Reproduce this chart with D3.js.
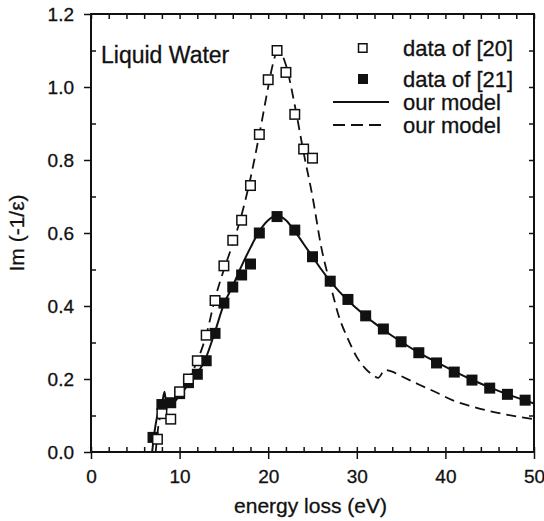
<!DOCTYPE html>
<html>
<head>
<meta charset="utf-8">
<script src="https://cdn.jsdelivr.net/npm/d3@7"></script>
<style>
  body { margin: 0; background: #fff; }
  text { font-family: "Liberation Sans", Arial, sans-serif; fill: #111; }
</style>
</head>
<body>
<div id="chart"></div>
<script>
// data of [20] (open squares)
var openX = [7.5, 8, 9, 10, 11, 12, 13, 14, 15, 16, 17, 18, 19, 20, 21, 22, 23, 24, 25];
var openY = [0.035, 0.105, 0.09, 0.165, 0.2, 0.25, 0.32, 0.415, 0.51, 0.58, 0.635, 0.73, 0.87, 1.02, 1.1, 1.04, 0.925, 0.83, 0.805];

// data of [21] (filled squares)
var filledX = [7, 8, 9, 10, 11, 12, 13, 14, 15, 16, 17, 18, 19, 21, 23, 25, 27, 29, 31, 33, 35, 37, 39, 41, 43, 45, 47, 49];
var filledY = [0.04, 0.13, 0.135, 0.16, 0.19, 0.213, 0.25, 0.325, 0.408, 0.452, 0.485, 0.515, 0.6, 0.645, 0.608, 0.535, 0.468, 0.418, 0.373, 0.337, 0.302, 0.272, 0.244, 0.219, 0.197, 0.175, 0.158, 0.142];

// our model (solid)
var solidX = [6.9, 7.2, 7.6, 8.0, 8.3, 8.5, 9, 10, 11, 12, 13, 14, 15, 16, 17, 18, 19, 20, 21, 22, 23, 24, 25, 26, 27, 28, 29, 30, 31, 32, 33, 35, 37, 39, 41, 43, 45, 47, 50];
var solidY = [0.0, 0.06, 0.11, 0.13, 0.165, 0.13, 0.13, 0.155, 0.185, 0.215, 0.26, 0.33, 0.405, 0.455, 0.51, 0.56, 0.605, 0.635, 0.648, 0.635, 0.605, 0.57, 0.535, 0.5, 0.468, 0.44, 0.415, 0.393, 0.372, 0.353, 0.335, 0.302, 0.272, 0.246, 0.221, 0.198, 0.177, 0.158, 0.133];

// our model (dashed)
var dashX = [7.3, 7.6, 8.0, 8.5, 9, 10, 11, 12, 13, 14, 15, 16, 17, 18, 19, 20, 20.5, 21, 21.5, 22, 23, 24, 25, 26, 27, 28, 29, 30, 31, 32, 32.4, 33.2, 34, 35, 37, 39, 41, 43, 45, 47, 50];
var dashY = [0.0, 0.07, 0.11, 0.13, 0.14, 0.165, 0.2, 0.25, 0.32, 0.42, 0.5, 0.57, 0.65, 0.75, 0.87, 1.0, 1.06, 1.095, 1.09, 1.06, 0.95, 0.82, 0.7, 0.56, 0.46, 0.37, 0.31, 0.26, 0.228, 0.208, 0.203, 0.225, 0.22, 0.208, 0.185, 0.163, 0.14, 0.125, 0.112, 0.102, 0.09];

var xMajor = [0, 10, 20, 30, 40, 50];
var yMajor = [0, 0.2, 0.4, 0.6, 0.8, 1.0, 1.2];

var W = 544, H = 521;
var margin = { top: 14, right: 10, bottom: 69, left: 91 };
var width = W - margin.left - margin.right,
  height = H - margin.top - margin.bottom;

var svg = d3.select("#chart").append("svg")
  .attr("width", W).attr("height", H)
  .append("g")
  .attr("transform", "translate(" + margin.left + "," + margin.top + ")");

var x = d3.scaleLinear().domain([0, 50]).range([0, width]);
var y = d3.scaleLinear().domain([0, 1.2]).range([height, 0]);

function zip(xs, ys) {
  return xs.map(function(v, i) { return { x: v, y: ys[i] }; });
}

function cleanAxis(g) {
  g.select(".domain").remove();
  g.selectAll(".tick line").attr("stroke", "#111").attr("stroke-width", 1.5);
  g.selectAll(".tick text")
    .style("font-family", "'Liberation Sans', Arial, sans-serif")
    .style("font-size", "19px")
    .attr("fill", "#111")
    .attr("stroke", "#111").attr("stroke-width", 0.3);
}

// axes
svg.append("g")
  .attr("transform", "translate(0," + height + ")")
  .call(d3.axisBottom(x).tickValues(xMajor).tickSize(7).tickPadding(11).tickFormat(d3.format("d")))
  .call(cleanAxis);
svg.append("g")
  .attr("transform", "translate(0," + height + ")")
  .call(d3.axisBottom(x).tickValues(d3.range(0, 51, 2)).tickSize(-5).tickFormat(""))
  .call(cleanAxis);
svg.append("g")
  .call(d3.axisTop(x).tickValues(d3.range(0, 51, 2)).tickSize(-5).tickFormat(""))
  .call(cleanAxis);
svg.append("g")
  .call(d3.axisLeft(y).tickValues(yMajor).tickSize(7).tickPadding(10).tickFormat(d3.format(".1f")))
  .call(cleanAxis);
svg.append("g")
  .call(d3.axisLeft(y).tickValues([0.1, 0.3, 0.5, 0.7, 0.9, 1.1]).tickSize(-5).tickFormat(""))
  .call(cleanAxis);
svg.append("g")
  .attr("transform", "translate(" + width + ",0)")
  .call(d3.axisRight(y).tickValues(d3.range(1, 12).map(function(d) { return d / 10; })).tickSize(-5).tickFormat(""))
  .call(cleanAxis);

svg.append("rect")
  .attr("width", width).attr("height", height)
  .attr("fill", "none").attr("stroke", "#111").attr("stroke-width", 2);

// model curves
var line = d3.line()
  .curve(d3.curveMonotoneX)
  .x(function(d) { return x(d.x); })
  .y(function(d) { return y(d.y); });

svg.append("path").datum(zip(dashX, dashY))
  .attr("d", line).attr("fill", "none").attr("stroke", "#111")
  .attr("stroke-width", 1.8).attr("stroke-dasharray", "10,6");

svg.append("path").datum(zip(solidX, solidY))
  .attr("d", line).attr("fill", "none").attr("stroke", "#111")
  .attr("stroke-width", 2);

// markers
var s = 11;
svg.selectAll(".filled").data(zip(filledX, filledY)).enter().append("rect")
  .attr("x", function(d) { return x(d.x) - s / 2; })
  .attr("y", function(d) { return y(d.y) - s / 2; })
  .attr("width", s).attr("height", s)
  .attr("fill", "#111");

svg.selectAll(".open").data(zip(openX, openY)).enter().append("rect")
  .attr("x", function(d) { return x(d.x) - s / 2 + 0.75; })
  .attr("y", function(d) { return y(d.y) - s / 2 + 0.75; })
  .attr("width", s - 1.5).attr("height", s - 1.5)
  .attr("fill", "#fff").attr("stroke", "#111").attr("stroke-width", 1.5);

// annotation
svg.append("text").attr("x", 10).attr("y", 49)
  .style("font-size", "23px").attr("stroke", "#111").attr("stroke-width", 0.3)
  .text("Liquid Water");

// legend
var legend = svg.append("g").attr("transform", "translate(242,0)");
var rows = [34, 65, 88, 111];
legend.append("rect").attr("x", 25.5).attr("y", rows[0] - 4.25).attr("width", 8.5).attr("height", 8.5)
  .attr("fill", "#fff").attr("stroke", "#111").attr("stroke-width", 1.5);
legend.append("rect").attr("x", 25).attr("y", rows[1] - 5).attr("width", 10).attr("height", 10)
  .attr("fill", "#111");
legend.append("line").attr("x1", 0).attr("x2", 56).attr("y1", rows[2]).attr("y2", rows[2])
  .attr("stroke", "#111").attr("stroke-width", 2);
legend.append("line").attr("x1", 0).attr("x2", 54).attr("y1", rows[3]).attr("y2", rows[3])
  .attr("stroke", "#111").attr("stroke-width", 1.8).attr("stroke-dasharray", "12,6");
var labels = ["data of [20]", "data of [21]", "our model", "our model"];
legend.selectAll(".lab").data(labels).enter().append("text")
  .attr("x", 70).attr("y", function(d, i) { return rows[i]; })
  .attr("dy", "0.35em").style("font-size", "22px")
  .attr("stroke", "#111").attr("stroke-width", 0.3)
  .text(function(d) { return d; });

// axis titles
svg.append("text")
  .attr("x", width / 2 - 2).attr("y", height + 61)
  .attr("text-anchor", "middle").style("font-size", "21px")
  .attr("stroke", "#111").attr("stroke-width", 0.3)
  .text("energy loss (eV)");
svg.append("text")
  .attr("transform", "translate(-67," + (height / 2) + ") rotate(-90)")
  .attr("text-anchor", "middle").style("font-size", "21px")
  .attr("stroke", "#111").attr("stroke-width", 0.3)
  .text("Im (-1/ε)");
</script>
</body>
</html>
